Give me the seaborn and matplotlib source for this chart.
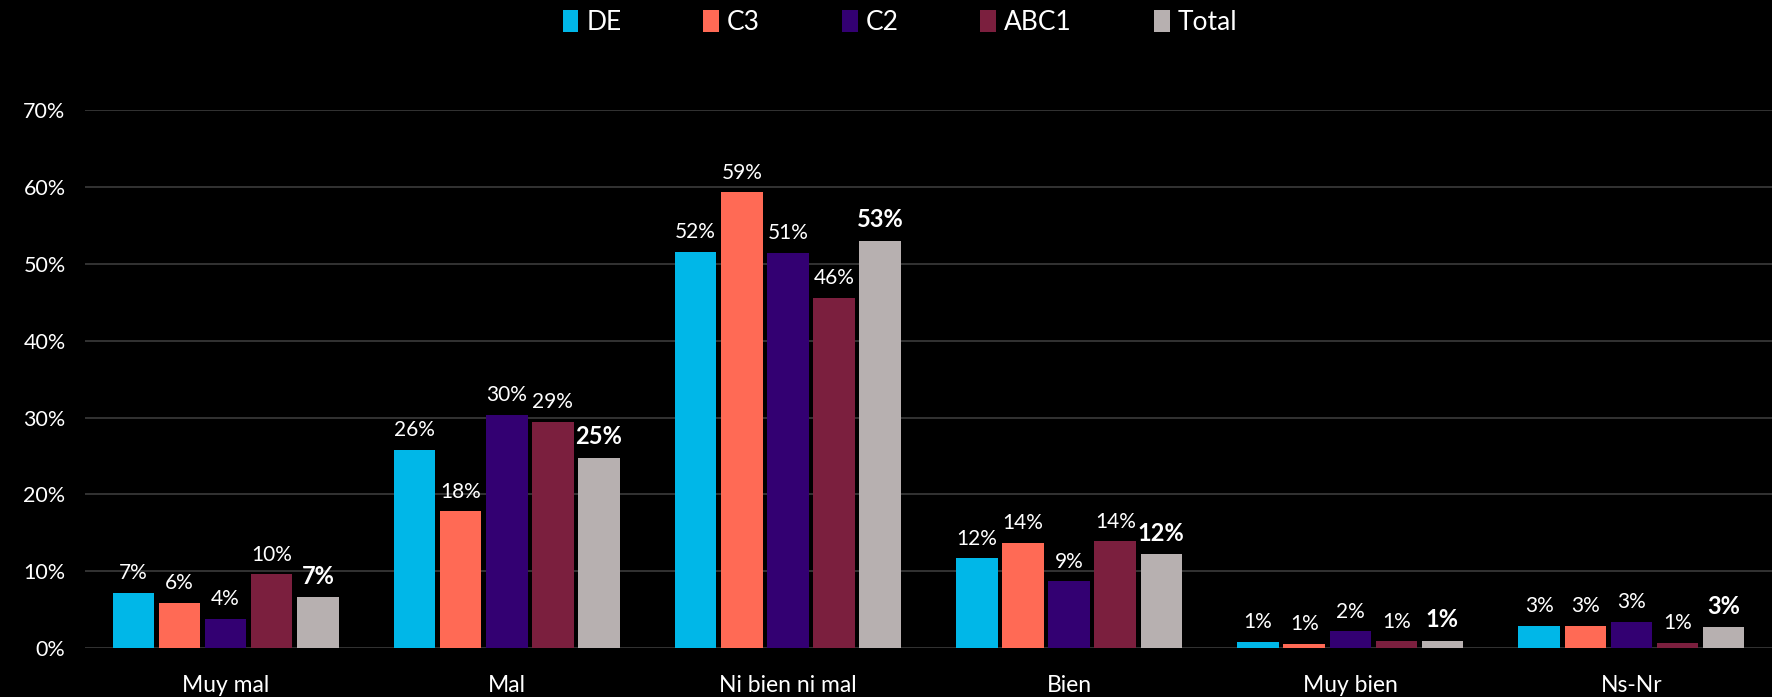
import pandas as pd
import seaborn as sns
import matplotlib.pyplot as plt

# categories and groups
categorias = ['Muy mal', 'Mal', 'Ni bien ni mal', 'Bien', 'Muy bien', 'Ns-Nr']
grupos = ['DE', 'C3', 'C2', 'ABC1', 'Total']

# values in %
de = [7.2, 25.8, 51.6, 11.7, 0.8, 2.9]
c3 = [5.9, 17.8, 59.3, 13.7, 0.6, 2.9]
c2 = [3.8, 30.4, 51.4, 8.7, 2.2, 3.4]
abc1 = [9.6, 29.4, 45.6, 13.9, 0.9, 0.7]
total = [6.6, 24.8, 53.0, 12.2, 1.0, 2.7]

colores = ['#00B7E8', '#FF6A55', '#330072', '#7B1F3E', '#B7B0B0']

rows = []
for g, vals in zip(grupos, [de, c3, c2, abc1, total]):
    for c, v in zip(categorias, vals):
        rows.append({'cat': c, 'grupo': g, 'valor': v / 100})
df = pd.DataFrame(rows)

sns.set_style('dark')
plt.rcParams['font.family'] = ['Lato', 'DejaVu Sans']
plt.rcParams['text.color'] = 'white'

fig = plt.figure(figsize=(17.72, 6.97), dpi=100, facecolor='black')
ax = fig.add_axes([0.048, 0.07, 0.952, 0.772])
ax.set_facecolor('black')

sns.barplot(data=df, x='cat', y='valor', hue='grupo', order=categorias,
            hue_order=grupos, palette=colores, width=0.82, gap=0.1,
            saturation=1, edgecolor='none', linewidth=0, ax=ax, legend=True)

# bar labels, Total in bold
for cont, g in zip(ax.containers, grupos):
    labs = ['{:.0f}%'.format(b.get_height() * 100) for b in cont]
    ax.bar_label(cont, labels=labs, padding=7, color='white',
                 fontsize=15 if g != 'Total' else 17,
                 fontweight='bold' if g == 'Total' else 'normal')

ax.set_ylim(0, 0.70)
ax.set_xlim(-0.5, 5.5)
ax.set_yticks([i / 10 for i in range(8)])
ax.set_yticklabels(['{}%'.format(i * 10) for i in range(8)])
ax.yaxis.grid(True, color='#3c3c3c', linewidth=1.2)
ax.xaxis.grid(False)
ax.set_axisbelow(True)
ax.tick_params(axis='y', colors='white', labelsize=15.5, length=0, pad=14)
ax.tick_params(axis='x', colors='white', labelsize=16.5, length=0, pad=19)
ax.set_xlabel('')
ax.set_ylabel('')
for s in ax.spines.values():
    s.set_visible(False)

leg = ax.legend(loc='center', bbox_to_anchor=(0.483, 1.162),
                ncol=5, frameon=False, fontsize=19, handlelength=0.6,
                handleheight=0.9, handletextpad=0.3, columnspacing=3.1)
for t in leg.get_texts():
    t.set_color('white')

fig.savefig('out.png', dpi=100, facecolor='black')
